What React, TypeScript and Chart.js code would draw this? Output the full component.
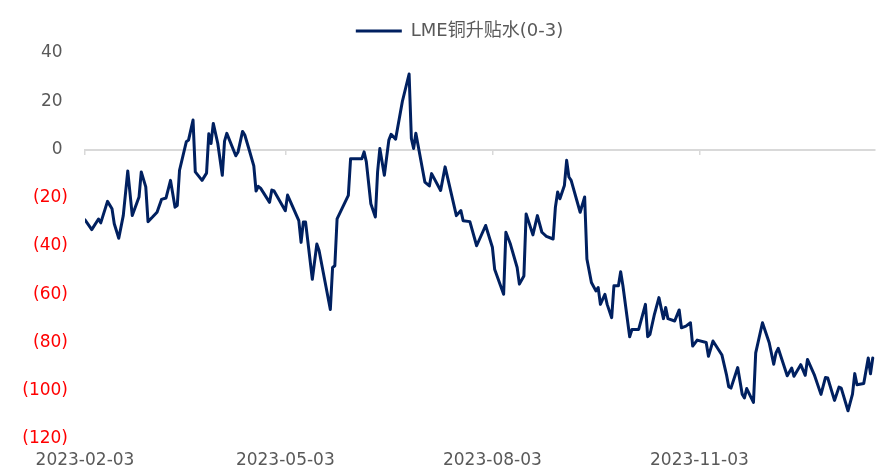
import { useEffect, useRef } from 'react';
import { Chart, registerables } from 'chart.js';

Chart.register(...registerables);

const seriesName = 'LME铜升贴水(0-3)';

const dates: string[] = [
  '2023-02-03', '2023-02-06', '2023-02-09', '2023-02-10', '2023-02-13', '2023-02-15', '2023-02-16', '2023-02-18', '2023-02-20', '2023-02-22',
  '2023-02-24', '2023-02-27', '2023-02-28', '2023-03-02', '2023-03-03', '2023-03-05', '2023-03-07', '2023-03-09', '2023-03-11', '2023-03-13',
  '2023-03-15', '2023-03-16', '2023-03-17', '2023-03-20', '2023-03-21', '2023-03-23', '2023-03-24', '2023-03-27', '2023-03-29', '2023-03-30',
  '2023-03-31', '2023-04-01', '2023-04-03', '2023-04-05', '2023-04-06', '2023-04-07', '2023-04-11', '2023-04-12', '2023-04-14', '2023-04-15',
  '2023-04-17', '2023-04-19', '2023-04-20', '2023-04-21', '2023-04-22', '2023-04-26', '2023-04-27', '2023-04-28', '2023-05-03', '2023-05-04',
  '2023-05-09', '2023-05-10', '2023-05-11', '2023-05-12', '2023-05-15', '2023-05-17', '2023-05-18', '2023-05-23', '2023-05-24', '2023-05-25',
  '2023-05-26', '2023-05-31', '2023-06-01', '2023-06-06', '2023-06-07', '2023-06-08', '2023-06-10', '2023-06-12', '2023-06-13', '2023-06-14',
  '2023-06-16', '2023-06-18', '2023-06-19', '2023-06-21', '2023-06-24', '2023-06-27', '2023-06-28', '2023-06-29', '2023-06-30', '2023-07-04',
  '2023-07-06', '2023-07-07', '2023-07-11', '2023-07-13', '2023-07-18', '2023-07-20', '2023-07-21', '2023-07-24', '2023-07-27', '2023-07-31',
  '2023-08-03', '2023-08-04', '2023-08-08', '2023-08-09', '2023-08-11', '2023-08-14', '2023-08-15', '2023-08-17', '2023-08-18', '2023-08-21',
  '2023-08-23', '2023-08-25', '2023-08-27', '2023-08-30', '2023-08-31', '2023-09-01', '2023-09-02', '2023-09-04', '2023-09-05', '2023-09-06',
  '2023-09-07', '2023-09-11', '2023-09-13', '2023-09-14', '2023-09-16', '2023-09-18', '2023-09-19', '2023-09-20', '2023-09-22', '2023-09-23',
  '2023-09-25', '2023-09-26', '2023-09-28', '2023-09-29', '2023-09-30', '2023-10-03', '2023-10-04', '2023-10-07', '2023-10-10', '2023-10-11',
  '2023-10-12', '2023-10-14', '2023-10-16', '2023-10-18', '2023-10-19', '2023-10-20', '2023-10-23', '2023-10-25', '2023-10-26', '2023-10-28',
  '2023-10-30', '2023-10-31', '2023-11-02', '2023-11-06', '2023-11-07', '2023-11-09', '2023-11-13', '2023-11-15', '2023-11-16', '2023-11-17',
  '2023-11-20', '2023-11-22', '2023-11-23', '2023-11-24', '2023-11-27', '2023-11-28', '2023-12-01', '2023-12-04', '2023-12-06', '2023-12-07',
  '2023-12-08', '2023-12-12', '2023-12-14', '2023-12-15', '2023-12-18', '2023-12-20', '2023-12-21', '2023-12-24', '2023-12-27', '2023-12-29',
  '2023-12-30', '2024-01-02', '2024-01-04', '2024-01-05', '2024-01-08', '2024-01-10', '2024-01-11', '2024-01-12', '2024-01-15', '2024-01-17',
  '2024-01-18', '2024-01-19',
];

const values: number[] = [
  -29.2, -33.2, -28.8, -30.4, -21.5, -24.6, -30.8, -36.8, -27.4, -8.9,
  -27.4, -19.7, -9.3, -15.5, -29.9, -28.0, -26.0, -20.7, -20.1, -12.8,
  -23.9, -23.2, -8.6, 3.2, 3.9, 12.2, -9.3, -12.8, -9.8, 6.5,
  2.5, 10.8, 2.5, -10.7, 3.5, 6.7, -2.6, -1.0, 7.5, 6.0,
  -0.3, -6.8, -17.2, -15.3, -16.0, -21.9, -16.8, -17.2, -25.4, -18.9,
  -29.5, -38.5, -30.1, -30.1, -53.8, -39.2, -41.9, -66.3, -48.9, -48.2,
  -28.8, -19.0, -3.8, -3.8, -1.0, -5.1, -22.5, -28.0, -9.3, 0.4,
  -10.7, 3.9, 6.3, 4.3, 19.9, 31.3, 4.6, 0.4, 6.7, -13.5,
  -15.1, -10.0, -17.0, -7.2, -27.4, -25.3, -29.5, -29.9, -39.9, -31.5,
  -40.5, -49.6, -60.0, -34.3, -39.2, -48.9, -55.8, -52.4, -26.7, -35.4,
  -27.4, -34.3, -36.0, -37.1, -23.9, -17.6, -20.4, -14.9, -4.5, -11.4,
  -12.8, -26.0, -19.7, -45.4, -55.1, -58.6, -57.2, -64.2, -60.0, -64.2,
  -69.7, -56.5, -56.5, -50.7, -56.5, -77.6, -74.6, -74.6, -64.2, -77.6,
  -76.7, -68.3, -61.4, -70.1, -65.5, -70.1, -71.1, -66.5, -73.9, -73.2,
  -71.8, -81.5, -79.0, -80.0, -85.7, -79.4, -85.2, -93.3, -98.3, -98.9,
  -90.4, -101.4, -103.0, -99.1, -104.8, -84.3, -71.8, -80.1, -89.0, -84.3,
  -82.4, -93.8, -90.6, -94.0, -89.2, -93.6, -87.0, -93.3, -101.5, -94.5,
  -94.7, -104.0, -98.5, -98.9, -108.3, -101.4, -92.9, -97.5, -97.0, -86.4,
  -93.0, -86.4,
];

const xTickLabels: string[] = ['2023-02-03', '2023-05-03', '2023-08-03', '2023-11-03'];
const axisStart = '2023-02-03';
const axisEnd = '2024-01-20';

const yMin = -120;
const yMax = 40;
const yStep = 20;

const DAY_MS = 86400000;
const parseDate = (s: string) => {
  const [y, m, d] = s.split('-').map(Number);
  return Date.UTC(y, m - 1, d);
};
const dayOf = (s: string) => Math.round((parseDate(s) - parseDate(axisStart)) / DAY_MS);

const FONT = "'DejaVu Sans', 'Noto Sans CJK SC', sans-serif";
const GRAY = '#595959';
const RED = '#ff0000';
const NAVY = '#002060';
const AXIS_GRAY = '#d9d9d9';

export default function App() {
  const canvasRef = useRef<HTMLCanvasElement | null>(null);

  useEffect(() => {
    const canvas = canvasRef.current;
    if (!canvas) return;

    const tickDays = xTickLabels.map(dayOf);
    const points = dates.map((d, i) => ({ x: dayOf(d), y: values[i] }));

    const legendTweak = {
      id: 'legendTweak',
      beforeLayout(chart: any) {
        const lg = chart.legend;
        if (lg && !lg._gapPatched) {
          const orig = lg.fit;
          lg.fit = function (this: any) {
            orig.call(this);
            this.height += 3;
          };
          lg._gapPatched = true;
        }
      },
      afterLayout(chart: any) {
        const lg = chart.legend;
        if (lg) {
          lg.left += 22;
          lg.right += 22;
        }
      },
    };

    const chart = new Chart(canvas, {
      type: 'line',
      data: {
        datasets: [
          {
            label: seriesName,
            data: points,
            borderColor: NAVY,
            backgroundColor: NAVY,
            borderWidth: 3,
            pointRadius: 0,
            tension: 0,
            borderJoinStyle: 'round',
            borderCapStyle: 'round',
            fill: false,
          },
        ],
      },
      options: {
        animation: false,
        responsive: false,
        parsing: false,
        layout: { padding: { left: 0, right: 14, top: 12, bottom: 0 } },
        plugins: {
          tooltip: { enabled: false },
          legend: {
            display: true,
            position: 'top',
            labels: {
              usePointStyle: true,
              pointStyle: 'line',
              pointStyleWidth: 46,
              color: GRAY,
              padding: 10,
              font: { family: FONT, size: 18 },
            },
          },
        },
        scales: {
          x: {
            type: 'linear',
            position: 'bottom',
            min: 0,
            max: dayOf(axisEnd),
            afterBuildTicks: (scale: any) => {
              scale.ticks = tickDays.map((v) => ({ value: v }));
            },
            afterFit: (scale: any) => {
              scale.height = 30;
            },
            grid: { display: false, drawTicks: false },
            border: { display: false },
            ticks: {
              autoSkip: false,
              maxRotation: 0,
              minRotation: 0,
              padding: 11,
              color: GRAY,
              font: { family: FONT, size: 17 },
              callback: (value: any) => {
                const idx = tickDays.indexOf(Number(value));
                return idx >= 0 ? xTickLabels[idx] : '';
              },
            },
          },
          x2: {
            type: 'linear',
            axis: 'x',
            position: { y: 0 },
            min: 0,
            max: dayOf(axisEnd),
            afterBuildTicks: (scale: any) => {
              scale.ticks = tickDays.map((v) => ({ value: v }));
            },
            grid: {
              display: true,
              drawOnChartArea: false,
              drawTicks: true,
              tickLength: 4,
              color: AXIS_GRAY,
              lineWidth: 1.5,
            },
            border: { display: true, color: AXIS_GRAY, width: 2 },
            ticks: { display: false },
          },
          y: {
            type: 'linear',
            position: 'left',
            min: yMin,
            max: yMax,
            afterFit: (scale: any) => {
              scale.width = 85;
            },
            grid: { display: false, drawTicks: false },
            border: { display: false },
            ticks: {
              stepSize: yStep,
              padding: 17,
              font: { family: FONT, size: 17 },
              color: (ctx: any) => (ctx.tick && ctx.tick.value < 0 ? RED : GRAY),
              callback: (value: any) => {
                const v = Number(value);
                return v < 0 ? `(${Math.abs(v)})` : `${v} `;
              },
            },
          },
        },
      },
      plugins: [legendTweak],
    } as any);

    return () => {
      chart.destroy();
    };
  }, []);

  return (
    <div style={{ position: 'absolute', left: 0, top: 0, width: 889, height: 469, background: '#ffffff' }}>
      <canvas ref={canvasRef} width={889} height={469} style={{ display: 'block' }} />
    </div>
  );
}
